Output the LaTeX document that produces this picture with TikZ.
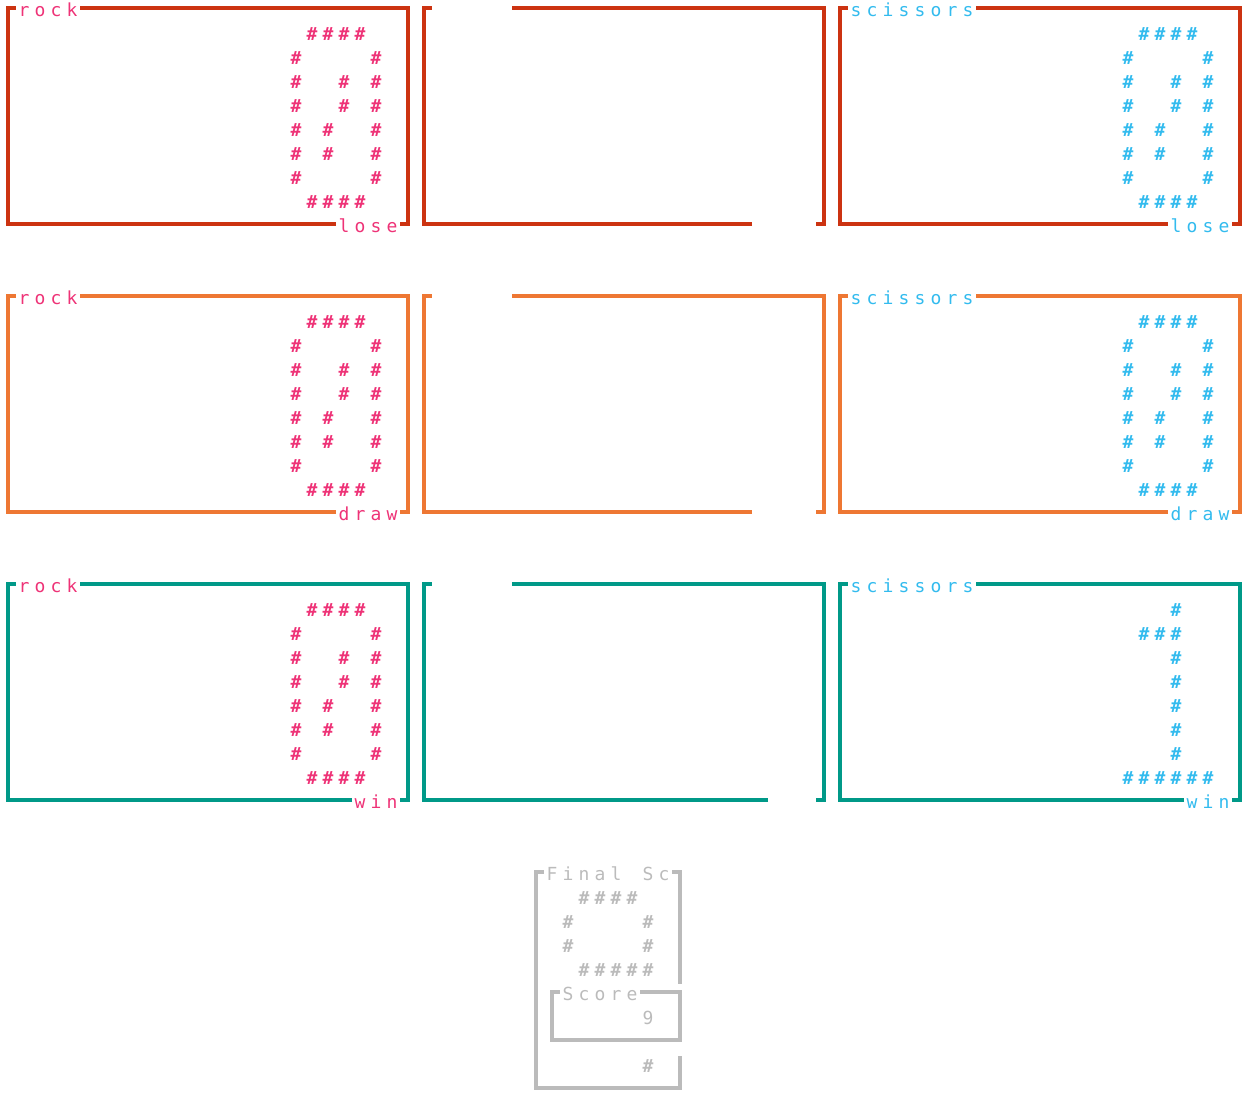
\documentclass[tikz,border=0pt]{standalone}
\usepackage{fontspec}
\newfontfamily\monofont{DejaVu Sans Mono}
\definecolor{tred}{HTML}{CC3311}
\definecolor{torange}{HTML}{EE7733}
\definecolor{tteal}{HTML}{009988}
\definecolor{tpink}{HTML}{EE3377}
\definecolor{tcyan}{HTML}{33BBEE}
\definecolor{tgrey}{HTML}{BBBBBB}
\tikzset{
  glyph/.style={font=\monofont\fontsize{18}{18}\selectfont, anchor=base, inner sep=0pt},
  hashglyph/.style={font=\monofont\bfseries\fontsize{18}{18}\selectfont, anchor=base, inner sep=0pt},
  bord/.style={line width=4pt, line join=miter, line cap=butt}
}
% text: col, row, colour, list of characters
\newcommand\txt[4]{%
  \foreach \ch [count=\k from 0] in {#4}{%
    \node[glyph,text=#3] (t-#1-#2-\k) at ({(#1+\k)*16+8},{#2*24+16}) {\ch};}}
% hashes: base col, row (expression), colour, list of column offsets
\newcommand\hsh[4]{%
  \pgfmathtruncatemacro\hrw{#2}%
  \foreach \c in {#4}{%
    \node[hashglyph,text=#3] (h-#1-\hrw-\c) at ({(#1+\c)*16+8},{\hrw*24+16}) {\#};}}
% digit zero: base col, top row, colour
\newcommand\digzero[3]{%
  \hsh{#1}{#2}{#3}{1,2,3,4}
  \hsh{#1}{#2+1}{#3}{0,5}
  \hsh{#1}{#2+2}{#3}{0,3,5}
  \hsh{#1}{#2+3}{#3}{0,3,5}
  \hsh{#1}{#2+4}{#3}{0,2,5}
  \hsh{#1}{#2+5}{#3}{0,2,5}
  \hsh{#1}{#2+6}{#3}{0,5}
  \hsh{#1}{#2+7}{#3}{1,2,3,4}}
% digit one
\newcommand\digone[3]{%
  \hsh{#1}{#2}{#3}{3}
  \hsh{#1}{#2+1}{#3}{1,2,3}
  \hsh{#1}{#2+2}{#3}{3}
  \hsh{#1}{#2+3}{#3}{3}
  \hsh{#1}{#2+4}{#3}{3}
  \hsh{#1}{#2+5}{#3}{3}
  \hsh{#1}{#2+6}{#3}{3}
  \hsh{#1}{#2+7}{#3}{0,1,2,3,4,5}}
% box: c0, r0, c1, r1, colour, title length, bottom text length
\newcommand\tbox[7]{%
  \draw[bord,#5] ({(#1+1+#6)*16},{#2*24+8}) -- ({#3*16+8},{#2*24+8}) -- ({#3*16+8},{#4*24+8}) -- ({#3*16},{#4*24+8});
  \draw[bord,#5] ({(#3-#7)*16},{#4*24+8}) -- ({#1*16+8},{#4*24+8}) -- ({#1*16+8},{#2*24+8}) -- ({#1*16+16},{#2*24+8});}
\begin{document}
\begin{tikzpicture}[x=1pt,y=-1pt]
\useasboundingbox (0,0) rectangle (1248,1104);
% ---- row A (lose) ----
\tbox{0}{0}{25}{9}{tred}{4}{4}
\txt{1}{0}{tpink}{r,o,c,k}
\txt{21}{9}{tpink}{l,o,s,e}
\digzero{18}{1}{tpink}
\tbox{26}{0}{51}{9}{tred}{5}{4}
\tbox{52}{0}{77}{9}{tred}{8}{4}
\txt{53}{0}{tcyan}{s,c,i,s,s,o,r,s}
\txt{73}{9}{tcyan}{l,o,s,e}
\digzero{70}{1}{tcyan}
% ---- row B (draw) ----
\tbox{0}{12}{25}{21}{torange}{4}{4}
\txt{1}{12}{tpink}{r,o,c,k}
\txt{21}{21}{tpink}{d,r,a,w}
\digzero{18}{13}{tpink}
\tbox{26}{12}{51}{21}{torange}{5}{4}
\tbox{52}{12}{77}{21}{torange}{8}{4}
\txt{53}{12}{tcyan}{s,c,i,s,s,o,r,s}
\txt{73}{21}{tcyan}{d,r,a,w}
\digzero{70}{13}{tcyan}
% ---- row C (win) ----
\tbox{0}{24}{25}{33}{tteal}{4}{3}
\txt{1}{24}{tpink}{r,o,c,k}
\txt{22}{33}{tpink}{w,i,n}
\digzero{18}{25}{tpink}
\tbox{26}{24}{51}{33}{tteal}{5}{3}
\tbox{52}{24}{77}{33}{tteal}{8}{3}
\txt{53}{24}{tcyan}{s,c,i,s,s,o,r,s}
\txt{74}{33}{tcyan}{w,i,n}
\digone{70}{25}{tcyan}
% ---- final score ----
\draw[bord,tgrey] (672,872) -- (680,872) -- (680,984);
\draw[bord,tgrey] (680,1056) -- (680,1088) -- (536,1088) -- (536,872) -- (544,872);
\txt{34}{36}{tgrey}{F,i,n,a,l}
\txt{40}{36}{tgrey}{S,c}
\hsh{35}{37}{tgrey}{1,2,3,4}
\hsh{35}{38}{tgrey}{0,5}
\hsh{35}{39}{tgrey}{0,5}
\hsh{35}{40}{tgrey}{1,2,3,4,5}
\tbox{34}{41}{42}{43}{tgrey}{5}{0}
\txt{35}{41}{tgrey}{S,c,o,r,e}
\txt{40}{42}{tgrey}{9}
\hsh{35}{44}{tgrey}{5}
\end{tikzpicture}
\end{document}
